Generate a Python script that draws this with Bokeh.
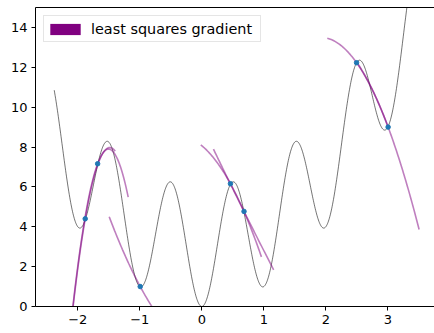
import numpy as np
from bokeh.plotting import figure
from bokeh.models import FixedTicker, LinearAxis, Legend, LegendItem, Range1d
from bokeh.embed import file_html
from bokeh.resources import INLINE

# Sample points evaluated on the objective
point_x = [-1.880, -1.680, -0.993, 0.462, 0.681, 2.496, 3.005]
point_y = [4.40, 7.16, 1.00, 6.16, 4.77, 12.23, 9.00]

# Local quadratic model around each point: y0 + slope*d + curv*d**2, d = x - x0
model_slope = [18.05, 8.39, -5.78, -5.67, -6.23, -4.40, -8.37]
model_curv = [-22.8, -23.9, 2.44, -3.34, 0.22, -3.81, -3.82]
model_from = [-2.38, -2.18, -1.493, -0.016, 0.188, 2.024, 2.505]
model_to = [-1.396, -1.187, -0.50, 0.962, 1.159, 3.005, 3.505]

# Objective domain
domain_start, domain_end = -2.38, 3.5

x_ticks = [-2, -1, 0, 1, 2, 3]
x_tick_labels = ["\u22122", "\u22121", "0", "1", "2", "3"]
y_ticks = [0, 2, 4, 6, 8, 10, 12, 14]

FONT = "DejaVu Sans"


def objective(x):
    return x ** 2 + 6.0 * np.sin(np.pi * x) ** 2


p = figure(
    width=434, height=333,
    output_backend="svg", toolbar_location=None,
    x_range=Range1d(-2.682, 3.753), y_range=Range1d(0, 15),
    min_border_left=35, min_border_right=0,
    min_border_top=7, min_border_bottom=27,
    x_axis_type=None, y_axis_type=None,
)
p.background_fill_color = "white"
p.border_fill_color = "white"
p.outline_line_color = None
p.xgrid.visible = False
p.ygrid.visible = False

# Axes
xaxis = LinearAxis(ticker=FixedTicker(ticks=x_ticks))
xaxis.major_label_overrides = {t: lab for t, lab in zip(x_ticks, x_tick_labels)}
yaxis = LinearAxis(ticker=FixedTicker(ticks=y_ticks))
for ax in (xaxis, yaxis):
    ax.axis_line_color = "black"
    ax.axis_line_width = 1
    ax.major_tick_line_color = "black"
    ax.major_tick_in = 0
    ax.major_tick_out = 4
    ax.minor_tick_line_color = None
    ax.major_label_standoff = 4
    ax.major_label_text_font = FONT
    ax.major_label_text_font_size = "13px"
    ax.major_label_text_color = "black"
p.add_layout(xaxis, "below")
p.add_layout(yaxis, "left")

# Top spine
top = LinearAxis(ticker=FixedTicker(ticks=[]))
top.axis_line_color = "black"
top.major_tick_line_color = None
top.minor_tick_line_color = None
top.major_label_text_font_size = "0px"
p.add_layout(top, "above")

# Objective curve
xs = np.linspace(domain_start, domain_end, 800)
p.line(xs, objective(xs), line_color="black", line_alpha=0.55, line_width=1)

# Quadratic models
for x0, y0, g, c, a, b in zip(point_x, point_y, model_slope, model_curv,
                              model_from, model_to):
    xm = np.linspace(a, b, 80)
    d = xm - x0
    p.line(xm, y0 + g * d + c * d ** 2, line_color="purple",
           line_alpha=0.5, line_width=1.6)

# Points
p.scatter(point_x, point_y, size=4.5, color="#1f77b4")

# Legend entry (patch only, nothing plotted)
proxy = p.quad(left=[np.nan], right=[np.nan], top=[np.nan], bottom=[np.nan],
               fill_color="purple", line_color=None)
legend = Legend(items=[LegendItem(label="least squares gradient",
                                  renderers=[proxy])])
legend.location = "top_left"
legend.margin = 8
legend.padding = 2
legend.glyph_width = 38
legend.glyph_height = 14
legend.label_height = 21
legend.label_width = 167
legend.label_standoff = 7
legend.label_text_font = FONT
legend.label_text_font_size = "14.4px"
legend.label_text_color = "black"
legend.border_line_color = "#cccccc"
legend.border_line_width = 1
legend.background_fill_color = "white"
legend.background_fill_alpha = 0.8
p.add_layout(legend, "center")

open("out.html", "w").write(file_html(p, INLINE))
